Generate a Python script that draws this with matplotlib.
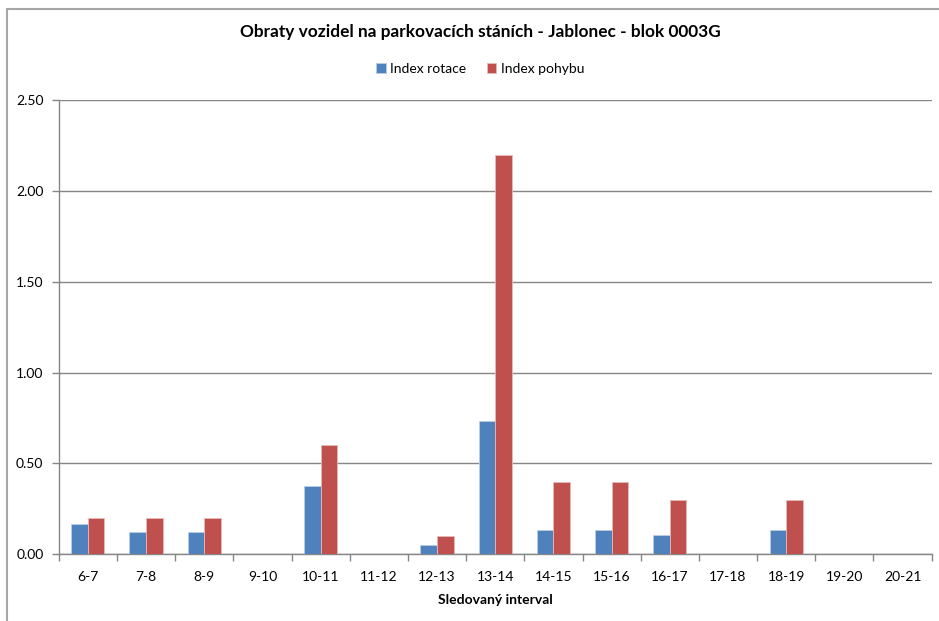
import matplotlib
matplotlib.use("Agg")
import matplotlib.pyplot as plt
import numpy as np
from matplotlib.patches import Rectangle
from matplotlib.ticker import FixedLocator

plt.rcParams['font.family'] = ['Lato', 'DejaVu Sans']

categories = ["6-7", "7-8", "8-9", "9-10", "10-11", "11-12", "12-13", "13-14",
              "14-15", "15-16", "16-17", "17-18", "18-19", "19-20", "20-21"]
index_rotace = [0.167, 0.125, 0.125, 0, 0.375, 0, 0.053, 0.733,
                0.133, 0.133, 0.107, 0, 0.136, 0, 0]
index_pohybu = [0.2, 0.2, 0.2, 0, 0.6, 0, 0.1, 2.2,
                0.4, 0.4, 0.3, 0, 0.3, 0, 0]
yticks = [0.0, 0.5, 1.0, 1.5, 2.0, 2.5]
title = "Obraty vozidel na parkovacích stáních - Jablonec - blok 0003G"
xlabel = "Sledovaný interval"

W, H = 939, 621
fig = plt.figure(figsize=(W / 100, H / 100), dpi=100)
ax = fig.add_axes([58.7 / W, 1 - 554.3 / H, (931.7 - 58.7) / W, (554.3 - 100) / H])

# chart frame
fig.patches.append(Rectangle((7 / W, -0.1), 1.1, 1 - 9 / H + 0.1, transform=fig.transFigure,
                             fill=False, edgecolor="#a6a6a6", linewidth=1.5))

x = np.arange(len(categories))
bw = 1 / 3.5
c_blue = "#4F81BD"
c_red = "#C0504D"
ax.bar(x - bw / 2, index_rotace, bw, color=c_blue, edgecolor="#b9cde5", linewidth=0.6,
       label="Index rotace", zorder=3)
ax.bar(x + bw / 2, index_pohybu, bw, color=c_red, edgecolor="#e6b9b8", linewidth=0.6,
       label="Index pohybu", zorder=3)

ax.set_xlim(-0.5, len(categories) - 0.5)
ax.set_ylim(0, 2.5)
ax.set_yticks(yticks)
ax.set_yticklabels([f"{v:.2f}" for v in yticks])
ax.yaxis.grid(True, color="#868686", linewidth=1)
ax.set_axisbelow(True)

ax.set_xticks(x)
ax.set_xticklabels(categories)
ax.xaxis.set_minor_locator(FixedLocator(np.arange(-0.5, len(categories), 1)))
ax.tick_params(axis="x", which="major", length=0, pad=12, labelsize=10, colors="black")
ax.tick_params(axis="x", which="minor", length=5, color="#868686", width=1)
ax.tick_params(axis="y", length=5, color="#868686", width=1, labelsize=10, pad=6)

for s in ["top", "right"]:
    ax.spines[s].set_visible(False)
for s in ["left", "bottom"]:
    ax.spines[s].set_color("#868686")
    ax.spines[s].set_linewidth(1)

ax.set_xlabel(xlabel, fontsize=10, fontweight="bold", labelpad=8)

fig.text(480 / W, 1 - 32 / H, title, ha="center", va="center", fontsize=12.4,
         fontweight="bold")
leg = fig.legend(loc="center", bbox_to_anchor=(480 / W, 1 - 69 / H), ncol=2, frameon=False,
                 fontsize=10, handlelength=0.7, handleheight=0.7, handletextpad=0.3,
                 columnspacing=1.5)

fig.savefig("out.png", dpi=100)
